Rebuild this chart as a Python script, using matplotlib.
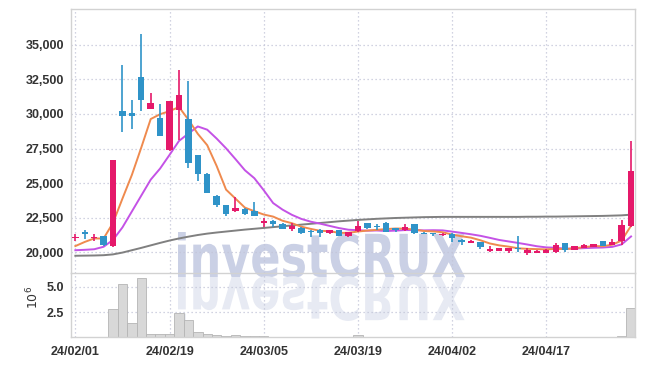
import matplotlib
matplotlib.use('Agg')
import matplotlib.pyplot as plt
from matplotlib.font_manager import FontProperties
from matplotlib.textpath import TextPath
from matplotlib.patches import PathPatch
from matplotlib.transforms import Affine2D, IdentityTransform
from matplotlib.ticker import FuncFormatter

# ---------------- data ----------------
dates = ["24/02/01", "24/02/02", "24/02/05", "24/02/06", "24/02/07", "24/02/08", "24/02/13", "24/02/14",
         "24/02/15", "24/02/16", "24/02/19", "24/02/20", "24/02/21", "24/02/22", "24/02/23", "24/02/26",
         "24/02/27", "24/02/28", "24/02/29", "24/03/04", "24/03/05", "24/03/06", "24/03/07", "24/03/08",
         "24/03/11", "24/03/12", "24/03/13", "24/03/14", "24/03/15", "24/03/18", "24/03/19", "24/03/20",
         "24/03/21", "24/03/22", "24/03/25", "24/03/26", "24/03/27", "24/03/28", "24/03/29", "24/04/01",
         "24/04/02", "24/04/03", "24/04/04", "24/04/05", "24/04/08", "24/04/09", "24/04/11", "24/04/12",
         "24/04/15", "24/04/16", "24/04/17", "24/04/18", "24/04/19", "24/04/22", "24/04/23", "24/04/24",
         "24/04/25", "24/04/26", "24/04/29", "24/04/30"]

opens = [21050, 21500, 21050, 21150, 20450, 30200, 30050, 32650, 30350, 29700,
         27400, 30300, 29650, 27000, 25650, 24100, 23400, 23000, 23130, 22950,
         22150, 22280, 22050, 21700, 21730, 21550, 21600, 21370, 21600, 21200,
         21540, 22110, 21870, 22140, 21720, 21590, 22020, 21400, 21380, 21220,
         21340, 20830, 20690, 20730, 20150, 20100, 20100, 20300, 19950, 19960,
         19950, 20050, 20660, 20170, 20320, 20370, 20800, 20540, 20800, 21900]
highs = [21350, 21600, 21350, 21200, 26700, 33500, 31000, 35750, 31500, 30750,
         30950, 33150, 32350, 27050, 25700, 24150, 23450, 24000, 23200, 23600,
         22450, 22350, 22100, 22100, 21800, 21580, 21650, 21620, 21620, 21500,
         22260, 22150, 22020, 22160, 21760, 22020, 22050, 21450, 21400, 21380,
         21360, 20975, 20900, 20760, 20490, 20320, 20320, 21150, 20290, 20140,
         20220, 20680, 20680, 20460, 20610, 20610, 20820, 20930, 22320, 28050]
lows = [20800, 20950, 20850, 20450, 20400, 28700, 28900, 30200, 30350, 28400,
        27350, 28100, 26100, 25150, 24250, 23300, 22650, 22900, 22700, 22600,
        21800, 21850, 21650, 21550, 21350, 21100, 21100, 21350, 21150, 21080,
        21500, 21700, 21610, 21450, 21450, 21530, 21350, 21300, 21200, 21200,
        20780, 20540, 20650, 20240, 20000, 20090, 19930, 20000, 19830, 19940,
        19940, 19950, 20000, 20150, 20300, 20350, 20470, 20500, 20540, 21850]
closes = [21100, 21300, 21100, 20500, 26650, 29850, 29850, 31000, 30800, 28400,
          30950, 31350, 26450, 25650, 24300, 23450, 22800, 23200, 22770, 22650,
          22250, 22050, 21700, 21870, 21370, 21450, 21380, 21580, 21200, 21460,
          21900, 21730, 21830, 21490, 21650, 21850, 21380, 21350, 21320, 21340,
          21020, 20790, 20850, 20370, 20190, 20310, 20310, 20270, 20170, 20100,
          20190, 20510, 20200, 20440, 20510, 20580, 20490, 20730, 21950, 25850]

ma5 = [20450, 20750, 21000, 21000, 22130, 23880, 25590, 27570, 29630, 29980,
       30200, 30500, 29590, 28560, 27740, 26240, 24530, 23880, 23230, 22970,
       22730, 22580, 22280, 22100, 21850, 21690, 21550, 21530, 21400, 21410,
       21500, 21570, 21620, 21680, 21720, 21710, 21640, 21540, 21510, 21450,
       21280, 21160, 21060, 20870, 20640, 20500, 20410, 20290, 20250, 20230,
       20210, 20250, 20230, 20290, 20370, 20450, 20440, 20550, 20850, 21920]
ma10 = [20150, 20180, 20220, 20400, 20900, 21800, 22950, 24100, 25250, 26055,
        27040, 28045, 28580, 29095, 28860, 28220, 27515, 26735, 25930, 25357,
        24487, 23557, 23082, 22704, 22411, 22211, 22069, 21907, 21750, 21631,
        21596, 21564, 21577, 21539, 21567, 21607, 21607, 21584, 21596, 21584,
        21496, 21402, 21304, 21192, 21046, 20892, 20785, 20677, 20562, 20438,
        20355, 20327, 20262, 20269, 20301, 20328, 20346, 20392, 20570, 21145]
ma60 = [19750, 19760, 19770, 19790, 19850, 19980, 20150, 20320, 20500, 20680,
        20850, 21000, 21130, 21250, 21350, 21430, 21500, 21570, 21640, 21700,
        21760, 21820, 21880, 21940, 22000, 22060, 22120, 22180, 22240, 22290,
        22340, 22380, 22420, 22450, 22480, 22500, 22520, 22540, 22550, 22560,
        22560, 22560, 22560, 22560, 22560, 22560, 22560, 22560, 22570, 22570,
        22580, 22580, 22590, 22600, 22610, 22620, 22630, 22650, 22670, 22720]

volume = [20000, 20000, 20000, 20000, 2850000, 5250000, 1440000, 5840000, 320000, 320000,
          320000, 2420000, 1700000, 520000, 320000, 220000, 160000, 220000, 120000, 120000,
          80000, 60000, 60000, 50000, 40000, 40000, 30000, 30000, 30000, 30000,
          200000, 30000, 30000, 30000, 30000, 30000, 30000, 30000, 30000, 30000,
          30000, 30000, 30000, 30000, 30000, 30000, 30000, 30000, 30000, 30000,
          30000, 30000, 30000, 30000, 30000, 30000, 30000, 30000, 100000, 2900000]

price_ticks = [20000, 22500, 25000, 27500, 30000, 32500, 35000]
vol_ticks = [2.5e6, 5.0e6]
tick_every = 10

# ---------------- styling ----------------
W, H = 645, 366
UP = '#e5196a'
DOWN = '#2f93c8'
C_MA5 = '#ef8a4e'
C_MA10 = '#c452e6'
C_MA60 = '#808080'
GRID = '#c3c5d8'
SPINE = '#d2d2d2'
TXT = '#333333'
tick_font = dict(family=['Liberation Sans', 'DejaVu Sans'], weight='bold', size=9)

fig = plt.figure(figsize=(W / 100, H / 100), dpi=100)
fig.patch.set_facecolor('white')

L, R = 71.3, 635.3
ax = fig.add_axes([L / W, 1 - 272.7 / H, (R - L) / W, (272.7 - 9.3) / H])
axv = fig.add_axes([L / W, 1 - 337.3 / H, (R - L) / W, (337.3 - 272.7) / H], sharex=ax)
for a in (ax, axv):
    a.set_facecolor('none')
    for s in a.spines.values():
        s.set_color(SPINE)
        s.set_linewidth(1.0)
    a.grid(True, linestyle=(0, (1, 2.2)), color=GRID, linewidth=0.9)
    a.set_axisbelow(True)
    a.tick_params(length=0, colors=TXT)
ax.spines['bottom'].set_visible(False)

x = list(range(len(dates)))

# moving average lines
ax.plot(x, ma60, color=C_MA60, lw=1.4, zorder=2)
ax.plot(x, ma10, color=C_MA10, lw=1.4, zorder=2)
ax.plot(x, ma5, color=C_MA5, lw=1.4, zorder=2)

# candles
for i in x:
    o, h, l, c = opens[i], highs[i], lows[i], closes[i]
    col = UP if c >= o else DOWN
    ax.vlines(i, l, h, color=col, lw=1.2, zorder=3)
    body = max(abs(c - o), 110)
    bottom = min(o, c) if abs(c - o) >= 110 else (o + c) / 2 - 55
    ax.bar(i, body, bottom=bottom, width=0.68, color=col, edgecolor='none', zorder=4)

ax.set_xlim(-0.43, 59.45)
ax.set_ylim(18526, 37560)
ax.set_yticks(price_ticks)
ax.yaxis.set_major_formatter(FuncFormatter(lambda v, p: f'{v:,.0f}'))
ax.set_xticks(x[::tick_every])
ax.tick_params(labelbottom=False)
for t in ax.get_yticklabels():
    t.set_fontproperties(FontProperties(**tick_font))
ax.tick_params(axis='y', pad=5)

# volume
axv.bar(x, [v / 1e6 for v in volume], width=1.0, color='#d8d8d8', edgecolor='#b5b5b5', lw=0.6, zorder=2)
axv.set_ylim(0, 6.4)
axv.set_yticks([v / 1e6 for v in vol_ticks])
axv.set_yticklabels(['2.5', '5.0'])
axv.set_xticks(x[::tick_every])
axv.set_xticklabels(dates[::tick_every])
for t in axv.get_yticklabels() + axv.get_xticklabels():
    t.set_fontproperties(FontProperties(**tick_font))
axv.tick_params(axis='y', pad=5)
axv.tick_params(axis='x', pad=6)
fig.text(33 / W, 1 - 297 / H, r'$10^{6}$', rotation=90, ha='center', va='center',
         fontsize=9, color=TXT)

# watermark with reflection
fp = FontProperties(family='DejaVu Sans', weight='bold')
tp = TextPath((0, 0), 'investCRUX', size=1, prop=fp)
ext = tp.get_extents()
x0, x1 = 178, 465
base = H - 277
top = H - 232
sx = (x1 - x0) / ext.width
sy = (top - base) / ext.y1
tr = Affine2D().translate(-ext.x0, 0).scale(sx, sy).translate(x0, base)
fig.add_artist(PathPatch(tr.transform_path(tp), facecolor='#cad0e5', edgecolor='none',
                         transform=IdentityTransform(), zorder=-1))
trr = Affine2D().translate(-ext.x0, 0).scale(sx, -sy).translate(x0, base)
fig.add_artist(PathPatch(trr.transform_path(tp), facecolor='#e7eaf3', edgecolor='none',
                         transform=IdentityTransform(), zorder=-1))

fig.savefig('out.png', dpi=100, facecolor='white')
